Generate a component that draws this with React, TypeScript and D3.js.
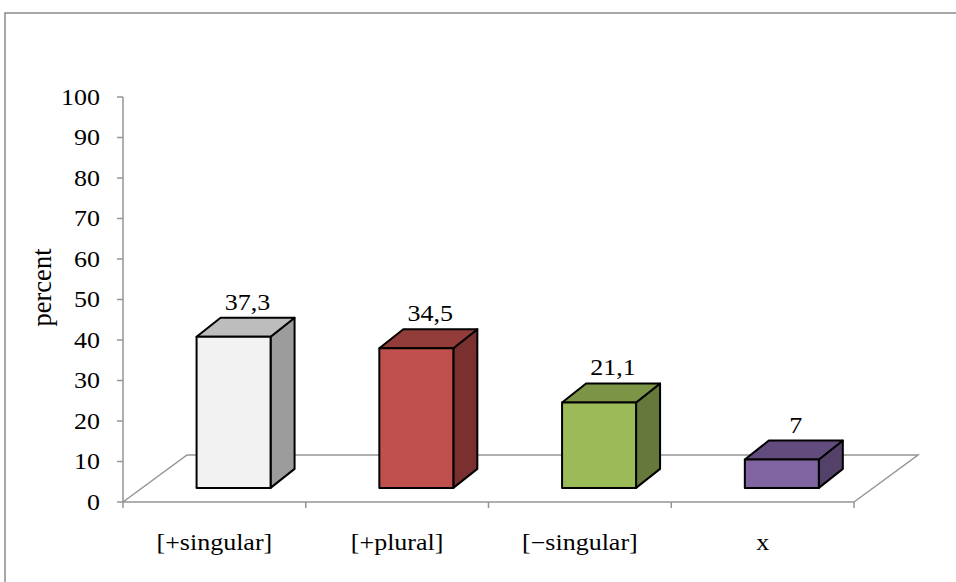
import React from "react";
import * as d3 from "d3";

const categories = ["[+singular]", "[+plural]", "[−singular]", "x"];
const values = [37.3, 34.5, 21.1, 7];
const valueLabels = ["37,3", "34,5", "21,1", "7"];
const yTicks = [0, 10, 20, 30, 40, 50, 60, 70, 80, 90, 100];
const frontColors = ["#f2f2f2", "#c0504d", "#9bbb59", "#8064a2"];
const topColors = ["#bdbdbd", "#933d3b", "#7b9446", "#624c7d"];
const sideColors = ["#9c9c9c", "#7a302e", "#66793a", "#534169"];

const W = 956;
const H = 582;
const FONT = "'Liberation Serif', 'Times New Roman', serif";

export default function App() {
  const x0 = 123;
  const x1 = 854;
  const x = d3.scaleBand<string>().domain(categories).range([x0, x1]).padding(0);
  const y = d3.scaleLinear().domain([0, 100]).range([502, 97]);
  const floorDx = 64;
  const floorDy = -47;
  const frontFrac = 0.3;
  const barW = 74;
  const barDx = 24;
  const barDy = -19;
  const axisColor = "#959595";
  const bw = x.bandwidth();

  const bars = categories.map((c, i) => {
    const cx = (x(c) as number) + bw / 2 + frontFrac * floorDx;
    const left = cx - barW / 2;
    const right = cx + barW / 2;
    const bottom = y(0) + frontFrac * floorDy;
    const h = y(0) - y(values[i]);
    const top = bottom - h;
    return { c, i, left, right, bottom, top };
  });

  const xTickPositions = categories.map((c) => x(c) as number).concat([x1]);

  return (
    <svg width={W} height={H} style={{ position: "absolute", left: 0, top: 0 }}>
      <rect x={0} y={0} width={W} height={H} fill="#ffffff" />
      {/* outer frame */}
      <rect x={5} y={13} width={W + 20} height={H + 20} fill="none" stroke="#8a8a8a" strokeWidth={1.5} />
      {/* floor */}
      <path
        d={`M${x0},${y(0)} L${x0 + floorDx},${y(0) + floorDy} L${x1 + floorDx},${y(0) + floorDy} L${x1},${y(0)}`}
        fill="none"
        stroke={axisColor}
        strokeWidth={1.5}
      />
      {/* x axis front edge */}
      <line x1={x0} x2={x1} y1={y(0)} y2={y(0)} stroke={axisColor} strokeWidth={1.5} />
      {xTickPositions.map((p, k) => (
        <line key={k} x1={p} x2={p} y1={y(0)} y2={y(0) + 6} stroke={axisColor} strokeWidth={1.5} />
      ))}
      {/* y axis */}
      <line x1={x0} x2={x0} y1={y(100)} y2={y(0)} stroke={axisColor} strokeWidth={1.5} />
      {yTicks.map((t) => (
        <g key={t}>
          <line x1={x0 - 6} x2={x0} y1={y(t)} y2={y(t)} stroke={axisColor} strokeWidth={1.5} />
          <text
            transform={`translate(${x0 - 23},${y(t) + 7.5}) scale(1,0.85)`}
            textAnchor="end"
            fontFamily={FONT}
            fontSize={26}
            fill="#000"
          >
            {t}
          </text>
        </g>
      ))}
      {/* y axis title */}
      <text
        transform={`translate(50.5,287.5) rotate(-90)`}
        textAnchor="middle"
        fontFamily={FONT}
        fontSize={26.5}
        fill="#000"
      >
        percent
      </text>
      {/* bars */}
      {bars.map((b) => (
        <g key={b.c} stroke="#000" strokeWidth={2} strokeLinejoin="round">
          <path
            d={`M${b.right},${b.top} L${b.right + barDx},${b.top + barDy} L${b.right + barDx},${b.bottom + barDy} L${b.right},${b.bottom} Z`}
            fill={sideColors[b.i]}
          />
          <path
            d={`M${b.left},${b.top} L${b.left + barDx},${b.top + barDy} L${b.right + barDx},${b.top + barDy} L${b.right},${b.top} Z`}
            fill={topColors[b.i]}
          />
          <rect x={b.left} y={b.top} width={b.right - b.left} height={b.bottom - b.top} fill={frontColors[b.i]} />
        </g>
      ))}
      {/* value labels */}
      {bars.map((b) => (
        <text
          key={"v" + b.c}
          transform={`translate(${(b.left + b.right + barDx) / 2 + 2},${b.top + barDy - 8}) scale(1,0.85)`}
          textAnchor="middle"
          fontFamily={FONT}
          fontSize={26}
          fill="#000"
        >
          {valueLabels[b.i]}
        </text>
      ))}
      {/* category labels */}
      {categories.map((c) => (
        <text
          key={"c" + c}
          transform={`translate(${(x(c) as number) + bw / 2},550) scale(1,0.85)`}
          textAnchor="middle"
          fontFamily={FONT}
          fontSize={26}
          fill="#000"
        >
          {c}
        </text>
      ))}
    </svg>
  );
}
